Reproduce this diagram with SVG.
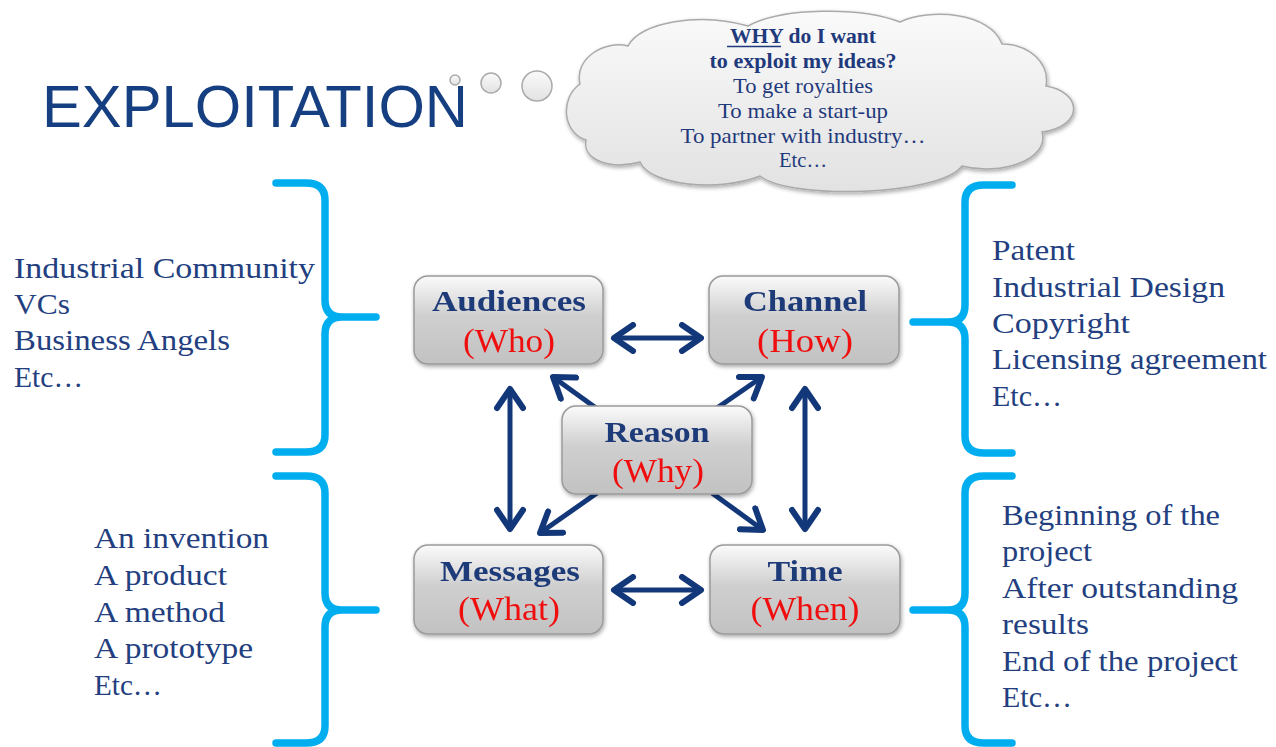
<svg xmlns="http://www.w3.org/2000/svg" width="1276" height="747" viewBox="0 0 1276 747">
<defs>
<linearGradient id="boxg" x1="0" y1="0" x2="0" y2="1">
<stop offset="0" stop-color="#fbfbfb"/>
<stop offset="0.45" stop-color="#cfcfcf"/>
<stop offset="1" stop-color="#c2c2c2"/>
</linearGradient>
<linearGradient id="cloudg" x1="0" y1="0" x2="0" y2="1">
<stop offset="0" stop-color="#fafafa"/>
<stop offset="1" stop-color="#e2e2e2"/>
</linearGradient>
<filter id="sh" x="-10%" y="-10%" width="125%" height="130%">
<feGaussianBlur in="SourceAlpha" stdDeviation="2"/>
<feOffset dx="1" dy="2"/>
<feComponentTransfer><feFuncA type="linear" slope="0.35"/></feComponentTransfer>
<feMerge><feMergeNode/><feMergeNode in="SourceGraphic"/></feMerge>
</filter>
<marker id="ah" viewBox="-26 -16 30 32" refX="0" refY="0" markerWidth="30" markerHeight="32" markerUnits="userSpaceOnUse" orient="auto-start-reverse">
<path d="M-19,-13 L0,0 L-19,13" fill="none" stroke="#13387a" stroke-width="6" stroke-linecap="round" stroke-linejoin="round"/>
</marker>
</defs>
<style>
.ttl{font-family:"Liberation Sans",Arial,sans-serif;font-size:59px;fill:#163f82}
.lst{font-family:"Liberation Serif","Times New Roman",serif;font-size:30px;fill:#233f80}
.cl{font-family:"Liberation Serif","Times New Roman",serif;font-size:21px;fill:#1f3a7c;text-anchor:middle}
.clb{font-weight:bold}
.bx{fill:url(#boxg);stroke:#9a9a9a;stroke-width:1.5}
.hd{font-family:"Liberation Serif","Times New Roman",serif;font-size:30px;font-weight:bold;fill:#1f3a78;text-anchor:middle}
.sub{font-family:"Liberation Serif","Times New Roman",serif;font-size:33px;fill:#f01010;text-anchor:middle}
.br{fill:none;stroke:#00aeef;stroke-width:7.5;stroke-linecap:round;stroke-linejoin:round}
.ar{fill:none;stroke:#13387a;stroke-width:5;marker-end:url(#ah);marker-start:url(#ah)}
.ar1{fill:none;stroke:#13387a;stroke-width:5;marker-end:url(#ah)}
.bub{fill:url(#cloudg);stroke:#aaaaaa;stroke-width:1.5}
</style>
<rect width="1276" height="747" fill="#ffffff"/>

<g id="title">
<text class="ttl" x="42" y="127" textLength="426" lengthAdjust="spacingAndGlyphs">EXPLOITATION</text>
</g>

<g id="thought">
<circle class="bub" cx="455" cy="80" r="5"/>
<circle class="bub" cx="491" cy="83" r="10"/>
<circle class="bub" cx="537" cy="86" r="15"/>
<path class="bub" filter="url(#sh)" d="M586,140 C562,132 560,98 580,84 C574,58 605,40 628,46 C640,22 700,12 748,26 C780,8 860,6 900,22 C930,8 990,12 1002,44 C1030,44 1050,64 1046,86 C1082,92 1085,126 1042,132 C1050,160 1000,176 962,166 C940,196 790,200 760,176 C720,192 650,186 640,162 C610,170 582,160 586,140 Z"/>
<text class="cl clb" x="803" y="43" textLength="146" lengthAdjust="spacingAndGlyphs">WHY do I want</text>
<line x1="727" y1="46.5" x2="781" y2="46.5" stroke="#1f3a7c" stroke-width="1.5"/>
<text class="cl clb" x="803" y="68" textLength="187" lengthAdjust="spacingAndGlyphs">to exploit my ideas?</text>
<text class="cl" x="803" y="93" textLength="140" lengthAdjust="spacingAndGlyphs">To get royalties</text>
<text class="cl" x="803" y="118" textLength="170" lengthAdjust="spacingAndGlyphs">To make a start-up</text>
<text class="cl" x="803" y="143" textLength="245" lengthAdjust="spacingAndGlyphs">To partner with industry…</text>
<text class="cl" x="803" y="167" textLength="48" lengthAdjust="spacingAndGlyphs">Etc…</text>
</g>

<g id="braces">
<path class="br" d="M276,183 H306 Q325,183 325,200 V300 Q325,317 342,317 Q325,317 325,334 V435 Q325,452 306,452 H276 M342,317 H376"/>
<path class="br" d="M276,476 H306 Q325,476 325,493 V593 Q325,610 342,610 Q325,610 325,627 V726 Q325,743 306,743 H276 M342,610 H376"/>
<path class="br" d="M1012,185 H984 Q965,185 965,202 V305 Q965,322 948,322 Q965,322 965,339 V436 Q965,453 984,453 H1012 M948,322 H913"/>
<path class="br" d="M1012,476 H984 Q965,476 965,493 V593 Q965,610 948,610 Q965,610 965,627 V726 Q965,743 984,743 H1012 M948,610 H913"/>
</g>

<g id="list-audiences">
<text class="lst" x="14" y="278" textLength="301" lengthAdjust="spacingAndGlyphs">Industrial Community</text>
<text class="lst" x="14" y="314" textLength="56" lengthAdjust="spacingAndGlyphs">VCs</text>
<text class="lst" x="14" y="350" textLength="216" lengthAdjust="spacingAndGlyphs">Business Angels</text>
<text class="lst" x="14" y="387" textLength="69" lengthAdjust="spacingAndGlyphs">Etc…</text>
</g>

<g id="list-channel">
<text class="lst" x="992" y="260" textLength="83" lengthAdjust="spacingAndGlyphs">Patent</text>
<text class="lst" x="992" y="297" textLength="233" lengthAdjust="spacingAndGlyphs">Industrial Design</text>
<text class="lst" x="992" y="333" textLength="138" lengthAdjust="spacingAndGlyphs">Copyright</text>
<text class="lst" x="992" y="369" textLength="275" lengthAdjust="spacingAndGlyphs">Licensing agreement</text>
<text class="lst" x="992" y="406" textLength="70" lengthAdjust="spacingAndGlyphs">Etc…</text>
</g>

<g id="list-messages">
<text class="lst" x="94" y="548" textLength="175" lengthAdjust="spacingAndGlyphs">An invention</text>
<text class="lst" x="94" y="585" textLength="133" lengthAdjust="spacingAndGlyphs">A product</text>
<text class="lst" x="94" y="622" textLength="131" lengthAdjust="spacingAndGlyphs">A method</text>
<text class="lst" x="94" y="658" textLength="159" lengthAdjust="spacingAndGlyphs">A prototype</text>
<text class="lst" x="94" y="695" textLength="68" lengthAdjust="spacingAndGlyphs">Etc…</text>
</g>

<g id="list-time">
<text class="lst" x="1002" y="525" textLength="218" lengthAdjust="spacingAndGlyphs">Beginning of the</text>
<text class="lst" x="1002" y="561" textLength="90" lengthAdjust="spacingAndGlyphs">project</text>
<text class="lst" x="1002" y="598" textLength="236" lengthAdjust="spacingAndGlyphs">After outstanding</text>
<text class="lst" x="1002" y="634" textLength="87" lengthAdjust="spacingAndGlyphs">results</text>
<text class="lst" x="1002" y="671" textLength="236" lengthAdjust="spacingAndGlyphs">End of the project</text>
<text class="lst" x="1002" y="707" textLength="70" lengthAdjust="spacingAndGlyphs">Etc…</text>
</g>

<g id="connectors">
<line class="ar" x1="614" y1="338" x2="701" y2="338"/>
<line class="ar" x1="614" y1="590" x2="701" y2="590"/>
<line class="ar" x1="510" y1="389" x2="510" y2="529"/>
<line class="ar" x1="805" y1="389" x2="805" y2="529"/>
<line class="ar1" x1="596" y1="408" x2="553" y2="377"/>
<line class="ar1" x1="717" y1="408" x2="762" y2="377"/>
<line class="ar1" x1="597" y1="493" x2="540" y2="533"/>
<line class="ar1" x1="712" y1="493" x2="763" y2="530"/>
</g>

<g id="audiences" filter="url(#sh)">
<rect class="bx" x="414" y="276" width="189" height="88" rx="14"/>
<text class="hd" x="509" y="311" textLength="154" lengthAdjust="spacingAndGlyphs">Audiences</text>
<text class="sub" x="509" y="352" textLength="92" lengthAdjust="spacingAndGlyphs">(Who)</text>
</g>
<g id="channel" filter="url(#sh)">
<rect class="bx" x="709" y="276" width="190" height="88" rx="14"/>
<text class="hd" x="805" y="311" textLength="124" lengthAdjust="spacingAndGlyphs">Channel</text>
<text class="sub" x="805" y="352" textLength="96" lengthAdjust="spacingAndGlyphs">(How)</text>
</g>
<g id="reason" filter="url(#sh)">
<rect class="bx" x="562" y="406" width="190" height="88" rx="14"/>
<text class="hd" x="657" y="442" textLength="105" lengthAdjust="spacingAndGlyphs">Reason</text>
<text class="sub" x="658" y="482" textLength="92" lengthAdjust="spacingAndGlyphs">(Why)</text>
</g>
<g id="messages" filter="url(#sh)">
<rect class="bx" x="414" y="545" width="189" height="89" rx="14"/>
<text class="hd" x="510" y="581" textLength="140" lengthAdjust="spacingAndGlyphs">Messages</text>
<text class="sub" x="509" y="620" textLength="102" lengthAdjust="spacingAndGlyphs">(What)</text>
</g>
<g id="time" filter="url(#sh)">
<rect class="bx" x="710" y="545" width="190" height="89" rx="14"/>
<text class="hd" x="805" y="581" textLength="75" lengthAdjust="spacingAndGlyphs">Time</text>
<text class="sub" x="805" y="620" textLength="109" lengthAdjust="spacingAndGlyphs">(When)</text>
</g>
</svg>
